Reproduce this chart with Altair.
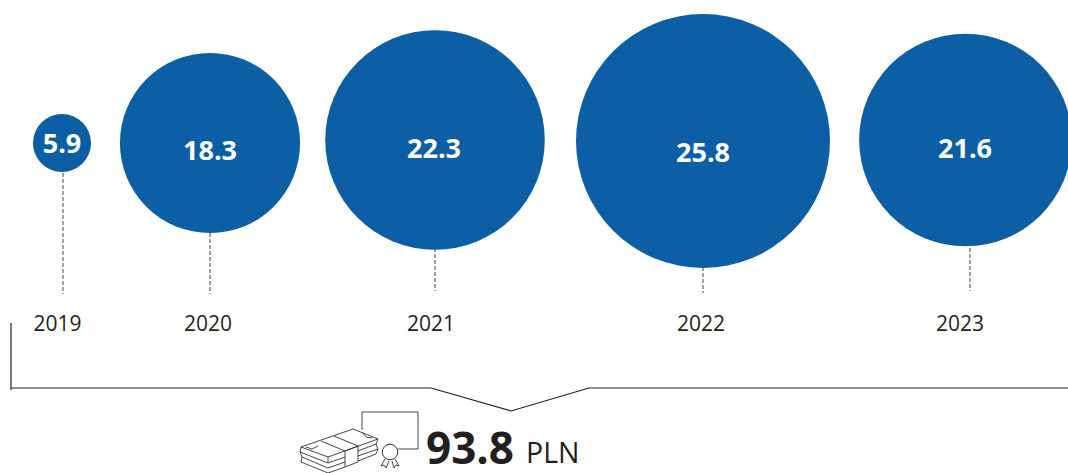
import altair as alt
import pandas as pd

# Yearly amounts and their labels
years = ["2019", "2020", "2021", "2022", "2023"]
amounts = [5.9, 18.3, 22.3, 25.8, 21.6]
amount_labels = ["5.9", "18.3", "22.3", "25.8", "21.6"]

# Horizontal layout of the timeline
centres = [62, 210, 435, 703, 965.5]
mid_y = [143, 143, 140, 141, 140]
label_x = [62, 210, 434, 703, 965]
label_y = [144.5, 152, 150, 154, 150]
year_x = [57.5, 208, 431, 701, 960]
stem_x = [63, 210, 435, 703, 970]
stem_end = [294, 294, 291, 293, 291]

W, H = 1068, 473
BLUE = "#0c5fa4"
INK = "#231f20"

x = alt.X("x:Q", scale=alt.Scale(domain=[0, W], range=[0, W]), axis=None)
y = alt.Y("y:Q", scale=alt.Scale(domain=[0, H], range=[0, H]), axis=None)

bubbles = pd.DataFrame({"x": centres, "y": mid_y, "amount": amounts})
labels = pd.DataFrame({"x": label_x, "y": label_y, "text": amount_labels})
year_df = pd.DataFrame({"x": year_x, "y": [325] * 5, "text": years})
stems = pd.DataFrame({"x": stem_x, "y": mid_y, "y2": stem_end})

stem_layer = alt.Chart(stems).mark_rule(
    color="#444444", strokeWidth=1, strokeDash=[4, 2]
).encode(x=x, y=y, y2="y2:Q")

# Circle diameter grows linearly with the amount
bubble_layer = alt.Chart(bubbles).mark_circle(opacity=1, color=BLUE).encode(
    x=x,
    y=y,
    size=alt.Size(
        "amount:Q",
        legend=None,
        scale=alt.Scale(type="pow", exponent=2, domain=[0, 25.8], range=[0, 64516]),
    ),
)

label_layer = alt.Chart(labels).mark_text(
    font="Open Sans", fontSize=27, fontWeight="bold", color="white"
).encode(x=x, y=y, text="text:N")

year_layer = alt.Chart(year_df).mark_text(
    font="Open Sans", fontSize=21, color=INK
).encode(x=x, y=y, text="text:N")


def polyline(points, group):
    return [{"x": px, "y": py, "o": i, "g": group} for i, (px, py) in enumerate(points)]


def lines(rows, width, color):
    return alt.Chart(pd.DataFrame(rows)).mark_line(
        color=color, strokeWidth=width, strokeJoin="miter"
    ).encode(x=x, y=y, order="o:Q", detail="g:N")


bracket = lines(
    polyline([(11, 323), (11, 390)], "a")
    + polyline([(11, 388), (431, 388), (511, 411), (589, 388), (1068, 388)], "b"),
    1.2,
    INK,
)

# Banknote stack with a certificate behind it
icon_rows = (
    polyline([(362, 430), (362, 412), (418, 412), (418, 449), (398, 449)], "cert")
    + polyline([(301, 447), (353, 429), (378, 439), (328, 457), (301, 447)], "top")
    + polyline([(321, 441), (345, 451), (345, 467), (358, 462), (358, 446), (334, 436)], "band")
    + polyline([(345, 451), (358, 446)], "bandfront")
    + polyline([(306, 447), (312, 449), (318, 446)], "mark1")
    + polyline([(362, 432), (366, 437), (372, 438)], "mark2")
    + polyline([(301, 447), (300, 452), (328, 463), (345, 457)], "s1")
    + polyline([(300, 452), (302, 457), (328, 468), (345, 462)], "s2")
    + polyline([(302, 457), (301, 462), (328, 473), (345, 467)], "s3")
    + polyline([(328, 457), (328, 463)], "edge")
    + polyline([(378, 439), (376, 444), (358, 451)], "s4")
    + polyline([(376, 444), (378, 449), (358, 456)], "s5")
    + polyline([(378, 449), (376, 454), (358, 461)], "s6")
    + polyline([(385, 459), (381, 466), (384, 465), (386, 468), (389, 461)], "rib1")
    + polyline([(392, 461), (394, 468), (396, 465), (399, 466), (395, 459)], "rib2")
)
icon = lines(icon_rows, 0.9, "#333333")

seal = alt.Chart(pd.DataFrame({"x": [390], "y": [452]})).mark_point(
    filled=False, color="#333333", size=240, strokeWidth=1, opacity=1
).encode(x=x, y=y)

total = alt.Chart(pd.DataFrame({"x": [426], "y": [464], "text": ["93.8"]})).mark_text(
    font="Open Sans", fontSize=44, fontWeight="bold", color=INK, align="left", baseline="alphabetic"
).encode(x=x, y=y, text="text:N")

unit = alt.Chart(pd.DataFrame({"x": [526], "y": [463], "text": ["PLN"]})).mark_text(
    font="Open Sans", fontSize=28.5, color=INK, align="left", baseline="alphabetic"
).encode(x=x, y=y, text="text:N")

chart = (
    alt.layer(stem_layer, bubble_layer, label_layer, year_layer, bracket, icon, seal, total, unit)
    .resolve_scale(size="independent")
    .properties(width=W, height=H, padding=0, autosize=alt.AutoSizeParams(type="none"))
    .configure(background="white", view=alt.ViewConfig(stroke="transparent"))
)

chart.save("out.html", embed_options={"renderer": "svg", "actions": False})
